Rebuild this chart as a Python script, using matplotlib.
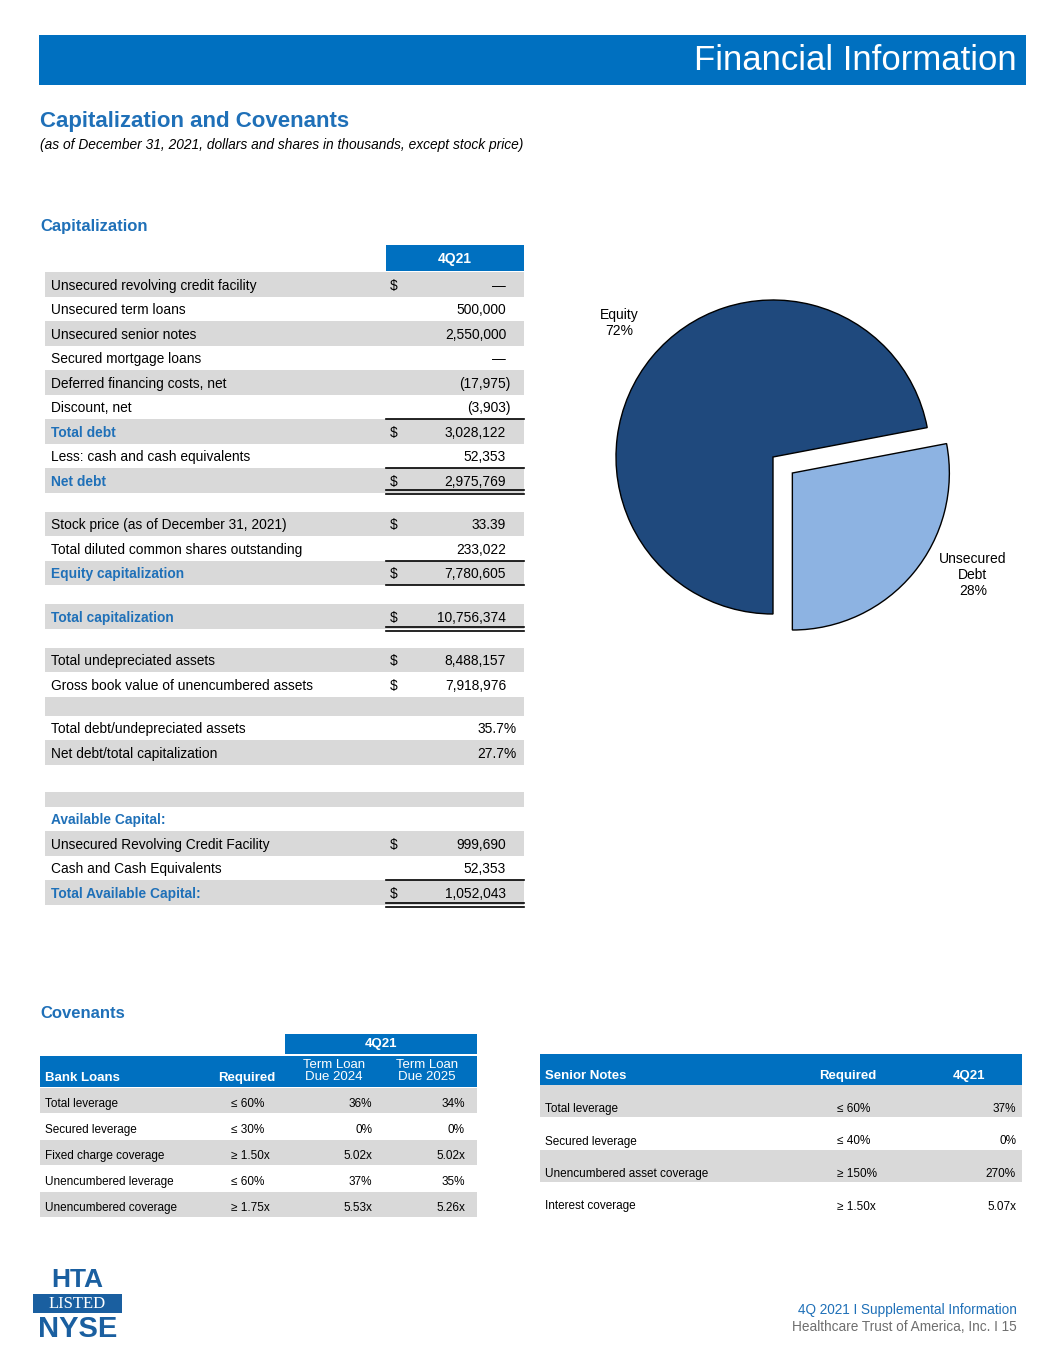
import matplotlib.pyplot as plt
from matplotlib.patches import Rectangle

plt.rcParams['font.family'] = ['Liberation Sans', 'DejaVu Sans']

# capitalization table
cap_labels = ["Unsecured revolving credit facility", "Unsecured term loans", "Unsecured senior notes",
              "Secured mortgage loans", "Deferred financing costs, net", "Discount, net", "Total debt",
              "Less: cash and cash equivalents", "Net debt", "",
              "Stock price (as of December 31, 2021)", "Total diluted common shares outstanding",
              "Equity capitalization", "", "Total capitalization", "",
              "Total undepreciated assets", "Gross book value of unencumbered assets", "",
              "Total debt/undepreciated assets", "Net debt/total capitalization", "", "",
              "Available Capital:", "Unsecured Revolving Credit Facility", "Cash and Cash Equivalents",
              "Total Available Capital:"]
cap_values = ["—", "500,000", "2,550,000", "—", "(17,975)", "(3,903)", "3,028,122", "52,353", "2,975,769", "",
              "33.39", "233,022", "7,780,605", "", "10,756,374", "",
              "8,488,157", "7,918,976", "", "35.7%", "27.7%", "", "",
              "", "999,690", "52,353", "1,052,043"]
cap_dollar = [1, 0, 0, 0, 0, 0, 1, 0, 1, 0, 1, 0, 1, 0, 1, 0, 1, 1, 0, 0, 0, 0, 0, 0, 1, 0, 1]
cap_bold = ["Total debt", "Net debt", "Equity capitalization", "Total capitalization",
            "Available Capital:", "Total Available Capital:"]

# pie
pie_labels = ["Unsecured\nDebt\n28%", "Equity\n72%"]
pie_values = [28, 72]

# covenants
bank_rows = ["Total leverage", "Secured leverage", "Fixed charge coverage", "Unencumbered leverage",
             "Unencumbered coverage"]
bank_required = ["≤ 60%", "≤ 30%", "≥ 1.50x", "≤ 60%", "≥ 1.75x"]
bank_2024 = ["36%", "0%", "5.02x", "37%", "5.53x"]
bank_2025 = ["34%", "0%", "5.02x", "35%", "5.26x"]

senior_rows = ["Total leverage", "Secured leverage", "Unencumbered asset coverage", "Interest coverage"]
senior_required = ["≤ 60%", "≤ 40%", "≥ 150%", "≥ 1.50x"]
senior_4q21 = ["37%", "0%", "270%", "5.07x"]

BLUE = '#0070C0'
TXTBLUE = '#1F70B8'
GRAY = '#D9D9D9'
W, H = 1055, 1365

fig = plt.figure(figsize=(W / 100, H / 100), dpi=100)
ax = fig.add_axes([0, 0, 1, 1])
ax.set_xlim(0, W)
ax.set_ylim(H, 0)
ax.axis('off')

def box(x, y, w, h, c):
    ax.add_patch(Rectangle((x, y), w, h, color=c, lw=0))

# page header
box(39, 35, 987, 50, BLUE)
ax.text(1017, 61, "Financial Information", color='white', fontsize=25, ha='right', va='center')
ax.text(40, 122, "Capitalization and Covenants", color=TXTBLUE, fontsize=16, fontweight='bold', va='center')
ax.text(40, 145, "(as of December 31, 2021, dollars and shares in thousands, except stock price)",
        fontsize=9.9, style='italic', va='center')
ax.text(40, 227, "Capitalization", color=TXTBLUE, fontsize=12, fontweight='bold', va='center')

# capitalization table
box(386, 245, 138, 26, BLUE)
ax.text(455, 259, "4Q21", color='white', fontsize=10, fontweight='bold', ha='center', va='center')

heights = [24.5] * 9 + [19] + [24.5] * 3 + [19, 24.5, 19] + [24.5] * 2 + [19] + [24.5] * 2 + [27, 15] + [24.5] * 4
gray_rows = {0, 2, 4, 6, 8, 10, 12, 14, 16, 18, 20, 22, 24, 26}
y = 272
tops = []
for i, lab in enumerate(cap_labels):
    h = heights[i]
    tops.append(y)
    if i in gray_rows:
        box(45, y, 479, h, GRAY)
    cy = y + h / 2 + 1.5
    if lab:
        bold = lab in cap_bold
        ax.text(51, cy, lab, fontsize=9.9, va='center', color=TXTBLUE if bold else 'black',
                fontweight='bold' if bold else 'normal')
    if cap_dollar[i]:
        ax.text(390, cy, "$", fontsize=9.9, va='center')
    v = cap_values[i]
    if v:
        xr = 517 if v.endswith('%') else (511 if v.endswith(')') else 506)
        ax.text(xr, cy, v, fontsize=9.9, va='center', ha='right')
    y += h

def rule(yy, double=False):
    ax.plot([386, 524], [yy, yy], color='black', lw=1.2)
    if double:
        ax.plot([386, 524], [yy + 3.5, yy + 3.5], color='black', lw=1.2)

idx = cap_labels.index
rule(tops[idx("Total debt")])
rule(tops[idx("Net debt")])
rule(tops[idx("Net debt")] + 22, True)
rule(tops[idx("Equity capitalization")])
rule(tops[idx("Equity capitalization")] + 24)
rule(tops[idx("Total capitalization")] + 23, True)
rule(tops[idx("Total Available Capital:")])
rule(tops[idx("Total Available Capital:")] + 23, True)

# pie
cx, cy, R = 773, 457, 157
pax = fig.add_axes([(cx - 1.3 * R) / W, (H - cy - 1.3 * R) / H, 2.6 * R / W, 2.6 * R / H])
wedges, _ = pax.pie(pie_values, colors=['#8DB3E2', '#1F497D'], startangle=-90, counterclock=True,
                    explode=[0.16, 0], wedgeprops=dict(edgecolor='black', linewidth=1))
pax.set_xlim(-1.3, 1.3)
pax.set_ylim(-1.3, 1.3)
pax.set_aspect('equal')
pax.axis('off')
pax.text((973 - cx) / R, (cy - 575) / R, pie_labels[0], fontsize=10, ha='center', va='center', linespacing=1.15)
pax.text((619 - cx) / R, (cy - 323) / R, pie_labels[1], fontsize=10, ha='center', va='center', linespacing=1.15)

# covenants
ax.text(40, 1013, "Covenants", color=TXTBLUE, fontsize=12, fontweight='bold', va='center')

box(285, 1034, 192, 20, BLUE)
ax.text(381, 1044, "4Q21", color='white', fontsize=9.5, fontweight='bold', ha='center', va='center')
box(40, 1056, 437, 31, BLUE)
ax.text(45, 1078, "Bank Loans", color='white', fontsize=9.5, fontweight='bold', va='center')
ax.text(275, 1078, "Required", color='white', fontsize=9.5, fontweight='bold', va='center', ha='right')
ax.text(334, 1071, "Term Loan\nDue 2024", color='white', fontsize=9.5, va='center', ha='center', linespacing=0.95)
ax.text(427, 1071, "Term Loan\nDue 2025", color='white', fontsize=9.5, va='center', ha='center', linespacing=0.95)
for i, lab in enumerate(bank_rows):
    top = 1088 + i * 26
    if i % 2 == 0:
        box(40, top, 437, 25, GRAY)
    ty = top + 16
    ax.text(45, ty, lab, fontsize=8.5, va='center')
    ax.text(231, ty, bank_required[i], fontsize=8.5, va='center')
    ax.text(372, ty, bank_2024[i], fontsize=8.5, va='center', ha='right')
    ax.text(465, ty, bank_2025[i], fontsize=8.5, va='center', ha='right')

box(540, 1054, 482, 31, BLUE)
ax.text(545, 1076, "Senior Notes", color='white', fontsize=9.5, fontweight='bold', va='center')
ax.text(848, 1076, "Required", color='white', fontsize=9.5, fontweight='bold', va='center', ha='center')
ax.text(969, 1076, "4Q21", color='white', fontsize=9.5, fontweight='bold', va='center', ha='center')
for i, lab in enumerate(senior_rows):
    top = 1085 + i * 32.5
    if i % 2 == 0:
        box(540, top, 482, 32, GRAY)
    ty = top + 24
    ax.text(545, ty, lab, fontsize=8.5, va='center')
    ax.text(837, ty, senior_required[i], fontsize=8.5, va='center')
    ax.text(1016, ty, senior_4q21[i], fontsize=8.5, va='center', ha='right')

# footer logo
LOGO = '#1A5FA0'
ax.text(77, 1280, "HTA", color=LOGO, fontsize=19, fontweight='bold', ha='center', va='center')
box(33, 1294, 89, 19, LOGO)
ax.text(77, 1304, "LISTED", color='white', fontsize=12, ha='center', va='center', family=['Liberation Serif'])
ax.text(78, 1329, "NYSE", color=LOGO, fontsize=21, fontweight='bold', ha='center', va='center')
ax.text(1017, 1310, "4Q 2021 I Supplemental Information", color=TXTBLUE, fontsize=9.8, ha='right', va='center')
ax.text(1017, 1327, "Healthcare Trust of America, Inc. I 15", color='#6E6E6E', fontsize=9.8, ha='right', va='center')

fig.savefig("out.png", dpi=100)
